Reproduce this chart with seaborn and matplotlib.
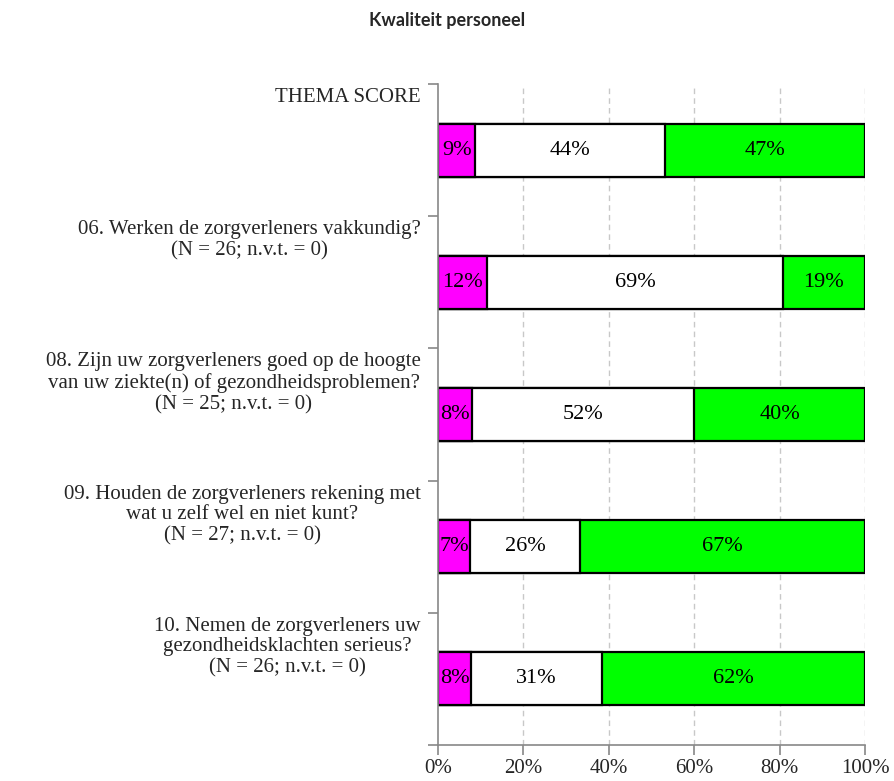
import matplotlib
matplotlib.use("Agg")
import matplotlib.pyplot as plt
import seaborn as sns
import numpy as np

# -- data --
questions = [
    "THEMA SCORE",
    "06. Werken de zorgverleners vakkundig?\n(N = 26; n.v.t. = 0)",
    "08. Zijn uw zorgverleners goed op de hoogte\nvan uw ziekte(n) of gezondheidsproblemen?\n(N = 25; n.v.t. = 0)",
    "09. Houden de zorgverleners rekening met\nwat u zelf wel en niet kunt?\n(N = 27; n.v.t. = 0)",
    "10. Nemen de zorgverleners uw\ngezondheidsklachten serieus?\n(N = 26; n.v.t. = 0)",
]
pct_neg = [8.7, 11.5, 8.0, 7.4, 7.7]
pct_mid = [44.4, 69.2, 52.0, 25.9, 30.8]
pct_pos = [46.9, 19.2, 40.0, 66.7, 61.5]
x_ticks = [0, 20, 40, 60, 80, 100]

sns.set_theme(style="white")
plt.rcParams["font.family"] = ["Liberation Serif", "DejaVu Serif"]

fig = plt.figure(figsize=(8.94, 7.81), dpi=100)
ax = fig.add_axes([0.490, 0.0461, 0.4776, 0.8463])

neg = np.array(pct_neg)
mid = np.array(pct_mid)
pos = np.array(pct_pos)
tot = neg + mid + pos
cats = [f"q{i}" for i in range(len(questions))]

# stacked by overdrawing: full bar first, then the shorter cumulative ones
sns.barplot(x=tot, y=cats, orient="h", color="#00FF00", saturation=1,
            edgecolor="black", linewidth=1.6, width=0.4, ax=ax)
sns.barplot(x=neg + mid, y=cats, orient="h", color="white", saturation=1,
            edgecolor="black", linewidth=1.6, width=0.4, ax=ax)
sns.barplot(x=neg, y=cats, orient="h", color="#FF00FF", saturation=1,
            edgecolor="black", linewidth=1.6, width=0.4, ax=ax)

n = len(questions)
for i in range(n):
    starts = [0, neg[i], neg[i] + mid[i]]
    for s, v in zip(starts, [neg[i], mid[i], pos[i]]):
        ax.text(s + v / 2, i, f"{int(round(v))}%", ha="center", va="center",
                fontsize=16, color="black")
    ax.text(-0.04, i - 0.47, questions[i], transform=ax.get_yaxis_transform(),
            ha="right", va="top", multialignment="center", fontsize=15,
            linespacing=1.12)

ax.set_xlim(0, 100)
ax.set_ylim(n - 0.5, -0.5)
ax.set_xticks(x_ticks)
ax.set_xticklabels([f"{t}%" for t in x_ticks], fontsize=15)
ax.set_yticks([i - 0.5 for i in range(n + 1)])
ax.set_yticklabels([])
ax.set_xlabel("")
ax.set_ylabel("")

for t in x_ticks[1:]:
    ax.axvline(t, color="#c8c8c8", linestyle=(0, (4, 3)), linewidth=1, zorder=0)

for side in ["top", "right"]:
    ax.spines[side].set_visible(False)
for side in ["left", "bottom"]:
    ax.spines[side].set_color("#888888")
    ax.spines[side].set_linewidth(1.2)
ax.tick_params(axis="both", which="major", direction="out", length=7,
               width=1.2, color="#888888", left=True, bottom=True)
ax.tick_params(axis="x", pad=3)

fig.text(0.5, 0.974, "Kwaliteit personeel", ha="center", va="center",
         fontsize=13, fontweight="bold", family=["Lato", "DejaVu Sans"])

plt.savefig("out.png", dpi=100)
plt.close()
